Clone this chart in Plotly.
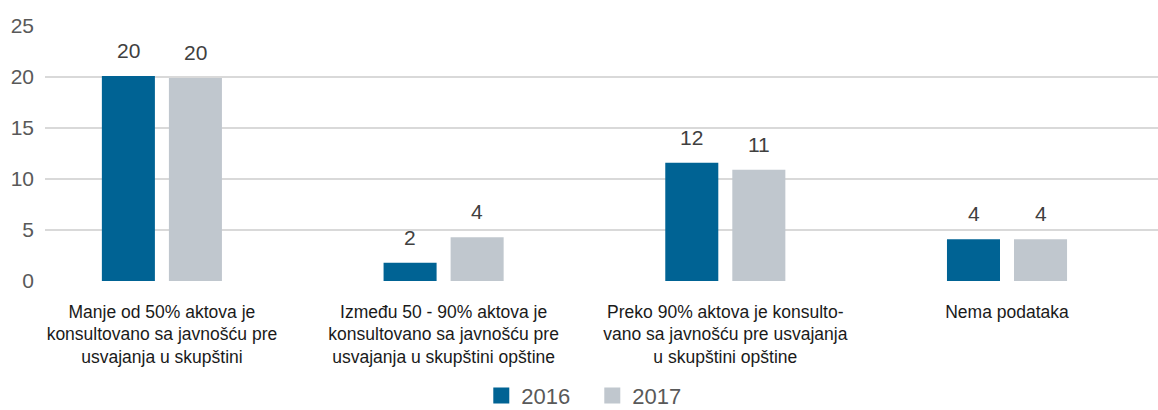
import plotly.graph_objects as go

categories = [
    "Manje od 50% aktova je<br>konsultovano sa javnošću pre<br>usvajanja u skupštini",
    "Između 50 - 90% aktova je<br>konsultovano sa javnošću pre<br>usvajanja u skupštini opštine",
    "Preko 90% aktova je konsulto-<br>vano sa javnošću pre usvajanja<br>u skupštini opštine",
    "Nema podataka",
]
series_names = ["2016", "2017"]
values_2016 = [20.1, 1.8, 11.6, 4.1]
values_2017 = [19.9, 4.3, 10.9, 4.1]
y_ticks = [0, 5, 10, 15, 20, 25]

colors = ["#006394", "#c0c7ce"]
FONT = "Liberation Sans, Arial, sans-serif"

fig = go.Figure()
for name, vals, col in zip(series_names, [values_2016, values_2017], colors):
    fig.add_trace(go.Bar(
        x=categories, y=vals, name=name, marker_color=col,
        marker_line_width=0, hoverinfo="skip",
        legendgroup=name, showlegend=False,
    ))
# legend entries (larger square swatches), grouped with the bars
for name, col in zip(series_names, colors):
    fig.add_trace(go.Scatter(
        x=[None], y=[None], mode="markers", name=name, legendgroup=name,
        marker=dict(symbol="square", size=16, color=col), hoverinfo="skip",
    ))

# data labels
slot_px = 67
for vals, sign in [(values_2016, -1), (values_2017, 1)]:
    for c, v in zip(categories, vals):
        fig.add_annotation(
            x=c, y=v, xref="x", yref="y", text=f"{v:.0f}", showarrow=False,
            xanchor="center", yanchor="bottom", xshift=sign * slot_px / 2, yshift=12,
            font=dict(family=FONT, size=21, color="#404040"),
        )

fig.update_layout(
    width=1158, height=410,
    margin=dict(l=45, r=0, t=26, b=129, pad=0, autoexpand=False),
    paper_bgcolor="white", plot_bgcolor="white",
    barmode="group", bargap=0.524, bargroupgap=0.209,
    font=dict(family=FONT, color="#595959"),
    showlegend=True,
    legend=dict(
        orientation="h", x=0.392, xanchor="left", y=-0.45, yanchor="middle",
        font=dict(family=FONT, size=22, color="#595959"),
        entrywidth=66, entrywidthmode="pixels", itemsizing="trace",
        bgcolor="rgba(0,0,0,0)", borderwidth=0,
    ),
)
fig.update_xaxes(
    range=[-0.415, 3.536], showgrid=False, zeroline=False, showline=False,
    ticks="", tickfont=dict(family=FONT, size=17.5, color="#1a1a1a"),
    ticklabelstandoff=18, automargin=False,
)
fig.update_yaxes(
    range=[0, 25], tickvals=y_ticks, showgrid=True, gridcolor="#d9d9d9", gridwidth=1.5,
    zeroline=False, showline=False, ticks="",
    tickfont=dict(family=FONT, size=21, color="#595959"),
    ticklabelstandoff=10, automargin=False,
)

fig.write_html(
    "out.html",
    config={"displayModeBar": False},
    post_script="document.body.style.margin='0';document.body.style.overflow='hidden';",
)
